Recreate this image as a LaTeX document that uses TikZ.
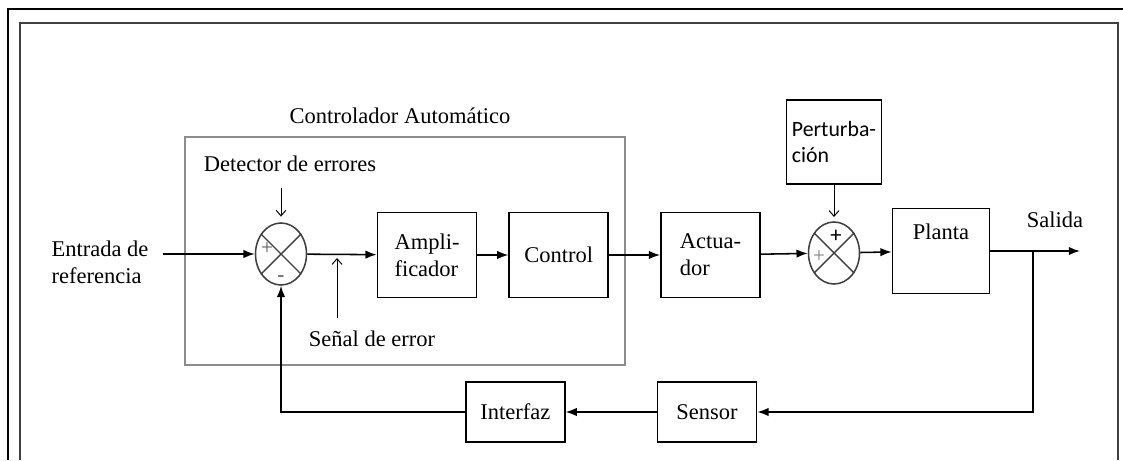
\documentclass[tikz,border=0pt]{standalone}
\usepackage{fontspec}
\setmainfont{Liberation Serif}
\newfontfamily\calibri{Carlito}
\usetikzlibrary{positioning,arrows.meta,shapes.geometric}

\tikzset{
  blk/.style={draw, line width=1.2pt, minimum width=2.475cm, minimum height=2.125cm, align=left, inner sep=2pt},
  sumj/.style={draw=black!75, ellipse, line width=1.1pt, minimum width=1.275cm, minimum height=1.55cm, inner sep=0pt},
  sig/.style={line width=1.1pt, -{Latex[length=8pt,width=6pt]}},
  note/.style={line width=0.7pt, -{Straight Barb[length=4pt,width=7pt]}},
  sgn/.style={font=\fontsize{15}{15}\selectfont, inner sep=0pt}
}

\begin{document}
\begin{tikzpicture}[x=0.025cm, y=-0.025cm, font=\fontsize{16}{19}\selectfont]
    \useasboundingbox (0,0) rectangle (1123,460);
    % marco
    \draw[line width=2pt] (8,460) -- (8,9) -- (1123,9);
    \draw[line width=1.4pt, black!75] (20,460) -- (20,23) -- (1118,23) -- (1118,460);

    % controlador automatico
    \draw[black!45, line width=1pt] (185,137) rectangle (625,365);
    \node (ctl) at (400,116) {Controlador Automático};
    \node (det) at (290,164) {Detector de errores};
    \node (senal) at (372,339) {Señal de error};
    \node [align=left] (entrada) at (100,262) {Entrada de\\referencia};
    \node (salida) at (1055,220) {Salida};

    \node [sumj] (s1) at (281,254) {};
    \draw[black!75, line width=1pt] (s1.45) -- (s1.225) (s1.135) -- (s1.315);
    \node [sgn, black!65] at (267,249) {+};
    \node [sgn, black!65] at (281,279) {-};

    \node [blk] (amp) at (427,255) {Ampli-\\ficador};
    \node [blk, right=0.775cm of amp] (ctrl) {Control};
    \node [blk, right=1.275cm of ctrl] (act) {Actua-\\dor};

    \node [sumj] (s2) at (834,253) {};
    \draw[black!75, line width=1pt] (s2.45) -- (s2.225) (s2.135) -- (s2.315);
    \node [sgn, font=\calibri\fontsize{16}{16}\selectfont] at (836,236) {+};
    \node [sgn, black!50] at (819,257) {+};

    \node [blk, minimum width=2.375cm, minimum height=2.1cm, font=\calibri\fontsize{15.5}{18}\selectfont] (pert) at (834,142) {Perturba-\\ción};
    \node [blk, minimum width=2.425cm, label={[anchor=north, yshift=-8pt]north:Planta}] (planta) at (941,251) {};

    \node [blk, minimum height=1.5cm] (sensor) at (707,412) {Sensor};
    \node [blk, minimum height=1.5cm, left=2.275cm of sensor] (interfaz) {Interfaz};

    \coordinate (inp) at (163,254);
    \coordinate (out) at (1080,251);
    \coordinate (br) at (1033,251);
    \coordinate (e) at (337,258);

    % lazo directo
    \draw[sig] (inp) -- (s1);
    \draw[sig] (s1) -- (amp);
    \draw[sig] (amp) -- (ctrl);
    \draw[sig] (ctrl) -- (act);
    \draw[sig] (act) -- (s2);
    \draw[sig] (s2) -- (planta);
    \draw[sig] (planta) -- (out);

    % realimentacion
    \draw[sig] (br) |- (sensor);
    \draw[sig] (sensor) -- (interfaz);
    \draw[sig] (interfaz) -| (s1);

    % rotulos
    \draw[note, shorten <=8pt, shorten >=4pt] (det.south -| s1) -- (s1.north);
    \draw[note, shorten <=6pt] (senal.north -| e) -- (e);
    \draw[note, shorten >=3pt] (pert.south) -- (s2.north);
\end{tikzpicture}
\end{document}
